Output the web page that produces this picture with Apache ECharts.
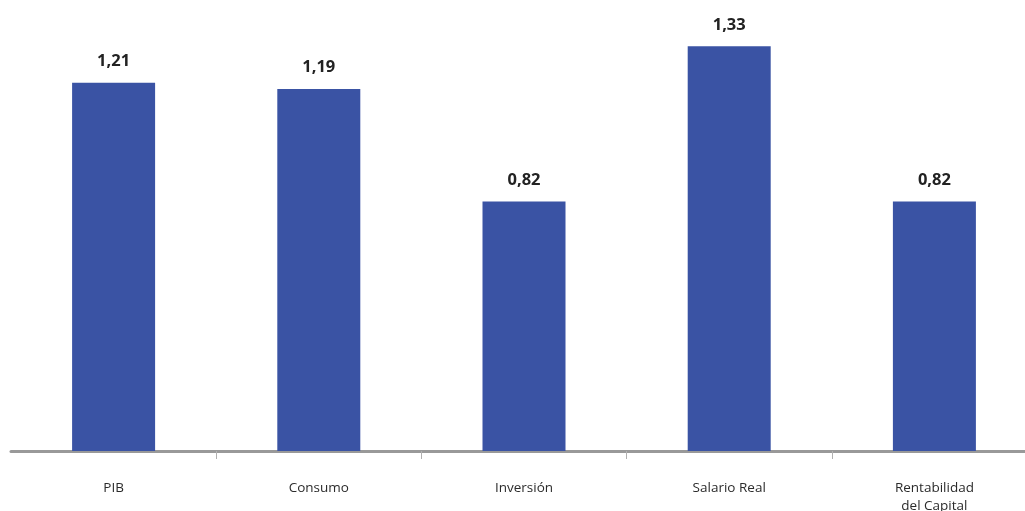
<!DOCTYPE html>
<html>
<head>
<meta charset="utf-8">
<style>
  html, body { margin: 0; padding: 0; background: #fff; overflow: hidden; }
  #chart { width: 1040px; height: 511px; }
</style>
<script src="https://cdn.jsdelivr.net/npm/echarts@6/dist/echarts.min.js"></script>
</head>
<body>
<div id="chart"></div>
<script>
// Indicadores (categorías y valores)
const categories = ['PIB', 'Consumo', 'Inversión', 'Salario Real', 'Rentabilidad\ndel Capital'];
const values = [1.21, 1.19, 0.82, 1.33, 0.82];

const chart = echarts.init(document.getElementById('chart'), null, { renderer: 'canvas' });

chart.setOption({
  animation: false,
  backgroundColor: '#ffffff',
  grid: { left: 11, top: 25, right: 3, height: 426, containLabel: false, outerBoundsMode: 'none' },
  xAxis: {
    type: 'category',
    data: categories,
    boundaryGap: true,
    axisLine: { show: true, lineStyle: { color: '#999999', width: 3, cap: 'round' } },
    axisTick: {
      show: true,
      length: 8,
      interval: function (i) { return i > 0; },
      lineStyle: { color: '#b0b0b0', width: 1 }
    },
    axisLabel: {
      interval: 0,
      margin: 28,
      color: '#2b2b2b',
      fontFamily: 'Open Sans',
      fontSize: 13.5,
      lineHeight: 18
    }
  },
  yAxis: {
    type: 'value',
    min: 0,
    max: 1.4,
    show: false,
    splitLine: { show: false }
  },
  series: [{
    type: 'bar',
    data: values,
    barWidth: 83,
    itemStyle: { color: '#3a53a4' },
    label: {
      show: true,
      position: 'top',
      distance: 13,
      color: '#222222',
      fontFamily: 'Open Sans',
      fontWeight: 'bold',
      fontSize: 16.5,
      formatter: function (p) { return p.value.toFixed(2).replace('.', ','); }
    }
  }]
});
</script>
</body>
</html>
